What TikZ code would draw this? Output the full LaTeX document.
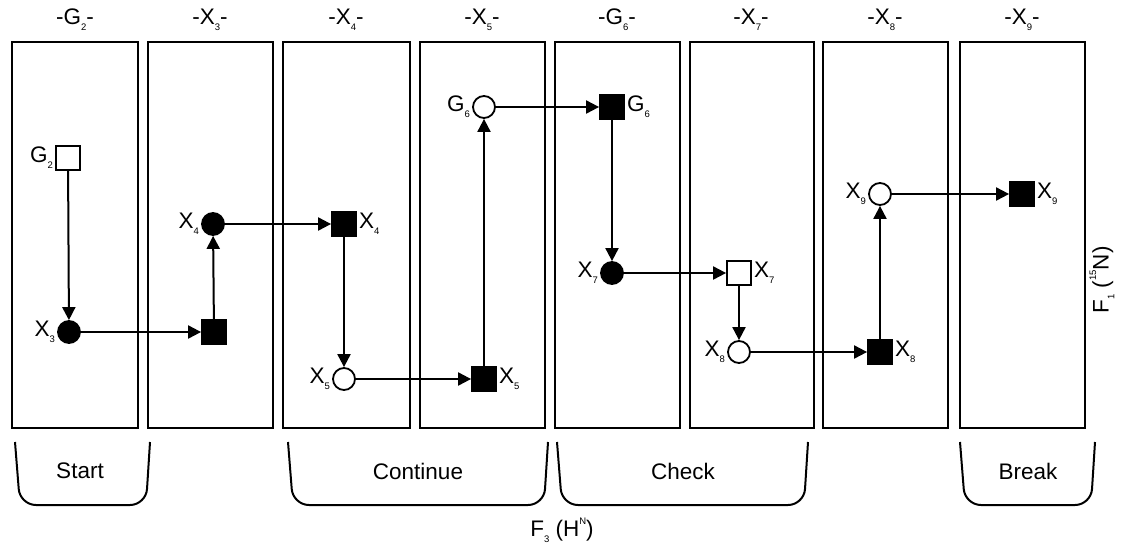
\documentclass[tikz,border=0pt]{standalone}
\usepackage{fontspec}
\setmainfont{Liberation Sans}
\usetikzlibrary{arrows.meta}
\newcommand\sbx[1]{\raisebox{-0.5ex}{\fontsize{9.5}{9.5}\selectfont #1}}
\newcommand\spx[1]{\raisebox{1.05ex}{\fontsize{9.5}{9.5}\selectfont #1}}
\begin{document}
\begin{tikzpicture}[x=1pt,y=-1pt,
  panel/.style={draw,line width=2pt},
  osq/.style={draw,line width=1.8pt,fill=white,minimum size=24pt,inner sep=0pt},
  fsq/.style={draw,line width=1.8pt,fill=black,minimum size=24pt,inner sep=0pt},
  ocirc/.style={circle,draw,line width=1.8pt,fill=white,minimum size=22pt,inner sep=0pt},
  fcirc/.style={circle,draw,line width=1.8pt,fill=black,minimum size=22pt,inner sep=0pt},
  lbl/.style={font=\fontsize{22.5}{22.5}\selectfont,inner sep=2pt},
  ttl/.style={font=\fontsize{22.5}{22.5}\selectfont,inner sep=0pt},
  brk/.style={draw,line width=2pt,rounded corners=16pt},
  arr/.style={draw,line width=2pt,-{Triangle[length=13pt,width=13pt]}}
]
\useasboundingbox (0,0) rectangle (1121,544);
% panels
\foreach \l/\r [count=\i] in {12/138,148/273,283/410,420/545,555/680,690/814,823/948,960/1085}{
  \draw[panel] (\l,42) rectangle (\r,428);
}
% titles
\node[ttl] (t1) at (75,20) {-G\sbx{2}-};
\node[ttl] (t2) at (210,20) {-X\sbx{3}-};
\node[ttl] (t3) at (346,20) {-X\sbx{4}-};
\node[ttl] (t4) at (482,20) {-X\sbx{5}-};
\node[ttl] (t5) at (617,20) {-G\sbx{6}-};
\node[ttl] (t6) at (751,20) {-X\sbx{7}-};
\node[ttl] (t7) at (885,20) {-X\sbx{8}-};
\node[ttl] (t8) at (1022,20) {-X\sbx{9}-};
% nodes
\node[osq] (g2) at (68,158) {};
\node[lbl,anchor=east] at (g2.west) {G\sbx{2}};
\node[fcirc] (x3) at (69,332) {};
\node[lbl,anchor=east] at (x3.west) {X\sbx{3}};
\node[fsq] (s3) at (214,332) {};
\node[fcirc] (x4c) at (213,224) {};
\node[lbl,anchor=east] at (x4c.west) {X\sbx{4}};
\node[fsq] (x4s) at (344,224) {};
\node[lbl,anchor=west] at (x4s.east) {X\sbx{4}};
\node[ocirc] (x5c) at (344,379) {};
\node[lbl,anchor=east] at (x5c.west) {X\sbx{5}};
\node[fsq] (x5s) at (484,379) {};
\node[lbl,anchor=west] at (x5s.east) {X\sbx{5}};
\node[ocirc] (g6c) at (484,107) {};
\node[lbl,anchor=east] at (g6c.west) {G\sbx{6}};
\node[fsq] (g6s) at (612,107) {};
\node[lbl,anchor=west] at (g6s.east) {G\sbx{6}};
\node[fcirc] (x7c) at (612,273) {};
\node[lbl,anchor=east] at (x7c.west) {X\sbx{7}};
\node[osq] (x7s) at (739,273) {};
\node[lbl,anchor=west] at (x7s.east) {X\sbx{7}};
\node[ocirc] (x8c) at (739,352) {};
\node[lbl,anchor=east] at (x8c.west) {X\sbx{8}};
\node[fsq] (x8s) at (880,352) {};
\node[lbl,anchor=west] at (x8s.east) {X\sbx{8}};
\node[ocirc] (x9c) at (880,194) {};
\node[lbl,anchor=east] at (x9c.west) {X\sbx{9}};
\node[fsq] (x9s) at (1022,194) {};
\node[lbl,anchor=west] at (x9s.east) {X\sbx{9}};
% arrows
\draw[arr] (g2) -- (x3);
\draw[arr] (x3) -- (s3);
\draw[arr] (s3) -- (x4c);
\draw[arr] (x4c) -- (x4s);
\draw[arr] (x4s) -- (x5c);
\draw[arr] (x5c) -- (x5s);
\draw[arr] (x5s) -- (g6c);
\draw[arr] (g6c) -- (g6s);
\draw[arr] (g6s) -- (x7c);
\draw[arr] (x7c) -- (x7s);
\draw[arr] (x7s) -- (x8c);
\draw[arr] (x8c) -- (x8s);
\draw[arr] (x8s) -- (x9c);
\draw[arr] (x9c) -- (x9s);
% brackets
\draw[brk] (15,442) -- (20,505) -- (146,505) -- (150,442);
\draw[brk] (288,442) -- (293,505) -- (544,505) -- (548,442);
\draw[brk] (557,442) -- (562,505) -- (804,505) -- (808,442);
\draw[brk] (960,442) -- (965,505) -- (1091,505) -- (1095,442);
\node[lbl] (bs) at (80,471) {Start};
\node[lbl] (bc) at (418,471) {Continue};
\node[lbl] (bk) at (683,471) {Check};
\node[lbl] (bb) at (1028,471) {Break};
% axis labels
\node[lbl] (f2) at (562,530) {F\sbx{3} (H\spx{N})};
\node[lbl,rotate=90] (f1) at (1102,280) {F\sbx{1} (\spx{15}N)};
\end{tikzpicture}
\end{document}
